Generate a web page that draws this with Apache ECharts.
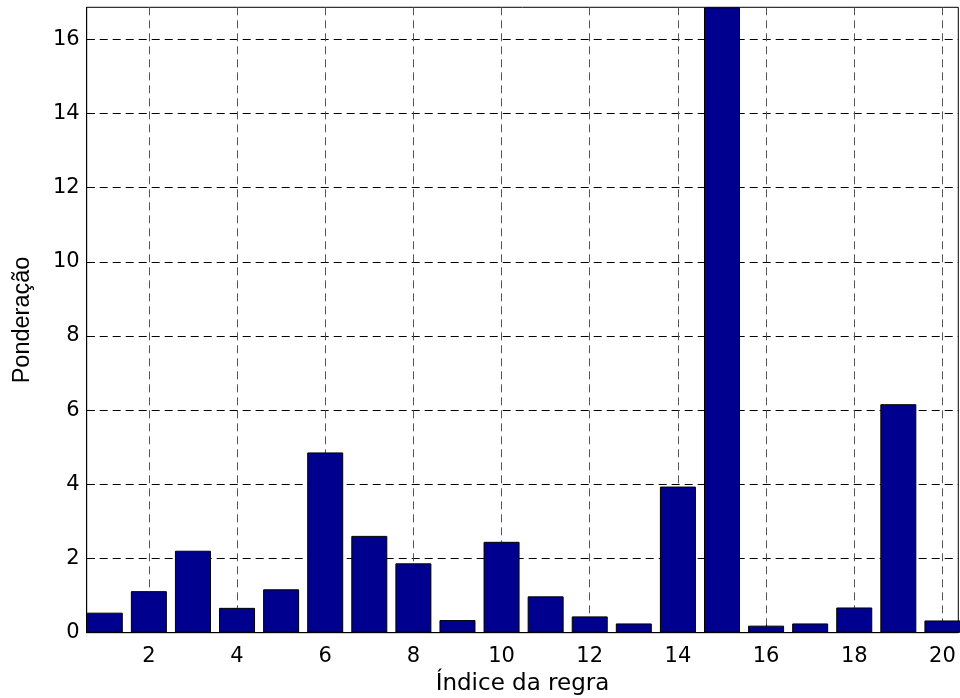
<!DOCTYPE html>
<html>
<head>
<meta charset="utf-8">
<style>
  html, body { margin: 0; padding: 0; background: #fff; }
  #chart { width: 960px; height: 698px; }
</style>
<script src="https://cdn.jsdelivr.net/npm/echarts@6/dist/echarts.min.js"></script>
</head>
<body>
<div id="chart"></div>
<script>
// Rule indices and their weights
const ruleIndex = [1, 2, 3, 4, 5, 6, 7, 8, 9, 10, 11, 12, 13, 14, 15, 16, 17, 18, 19, 20];
const weights = [0.54, 1.12, 2.21, 0.67, 1.17, 4.86, 2.61, 1.87, 0.34, 2.45,
                 0.98, 0.44, 0.25, 3.94, 16.86, 0.19, 0.25, 0.68, 6.16, 0.33];
const xTicks = [2, 4, 6, 8, 10, 12, 14, 16, 18, 20];
const yTicks = [0, 2, 4, 6, 8, 10, 12, 14, 16];

const xMin = 0.59, xMax = 20.36;
const yMax = Math.max(...weights);   // tight vertical limits

const tickFont = { fontFamily: 'DejaVu Sans', fontSize: 21, color: '#000' };

const chart = echarts.init(document.getElementById('chart'), null, { renderer: 'canvas' });

chart.setOption({
  animation: false,
  backgroundColor: '#fff',
  grid: {
    left: 86.7, right: 1.7, top: 7.3, bottom: 65.3, containLabel: false,
    outerBoundsMode: 'none',
    show: true, borderColor: '#000', borderWidth: 1, backgroundColor: 'transparent'
  },
  xAxis: {
    type: 'value', min: xMin, max: xMax, position: 'bottom',
    name: 'Índice da regra', nameLocation: 'middle', nameGap: 40,
    nameTextStyle: { fontFamily: 'DejaVu Sans', fontSize: 23, color: '#000' },
    axisLine: { show: true, onZero: false, lineStyle: { color: '#000', width: 1 } },
    axisTick: { show: true, inside: true, length: 8, customValues: xTicks, lineStyle: { color: '#000' } },
    axisLabel: { show: true, customValues: xTicks, margin: 13, ...tickFont },
    splitLine: { show: true, lineStyle: { color: '#555', width: 1, type: [8, 5] } }
  },
  yAxis: {
    type: 'value', min: 0, max: yMax, position: 'left',
    name: 'Ponderação', nameLocation: 'middle', nameGap: 52,
    nameTextStyle: { fontFamily: 'Liberation Sans', fontSize: 23.5, color: '#000' },
    axisLine: { show: true, onZero: false, lineStyle: { color: '#000', width: 1 } },
    axisTick: { show: true, inside: true, length: 8, customValues: yTicks, lineStyle: { color: '#000' } },
    axisLabel: { show: true, customValues: yTicks, margin: 7, ...tickFont },
    splitLine: { show: true, lineStyle: { color: '#000', width: 1, type: [8, 5] } }
  },
  series: [
    {
      type: 'bar',
      barWidth: 36,
      clip: true,
      data: ruleIndex.map((r, i) => [r, weights[i]]),
      itemStyle: { color: '#00008f', borderColor: '#000', borderWidth: 1 }
    }
  ]
});
</script>
</body>
</html>
